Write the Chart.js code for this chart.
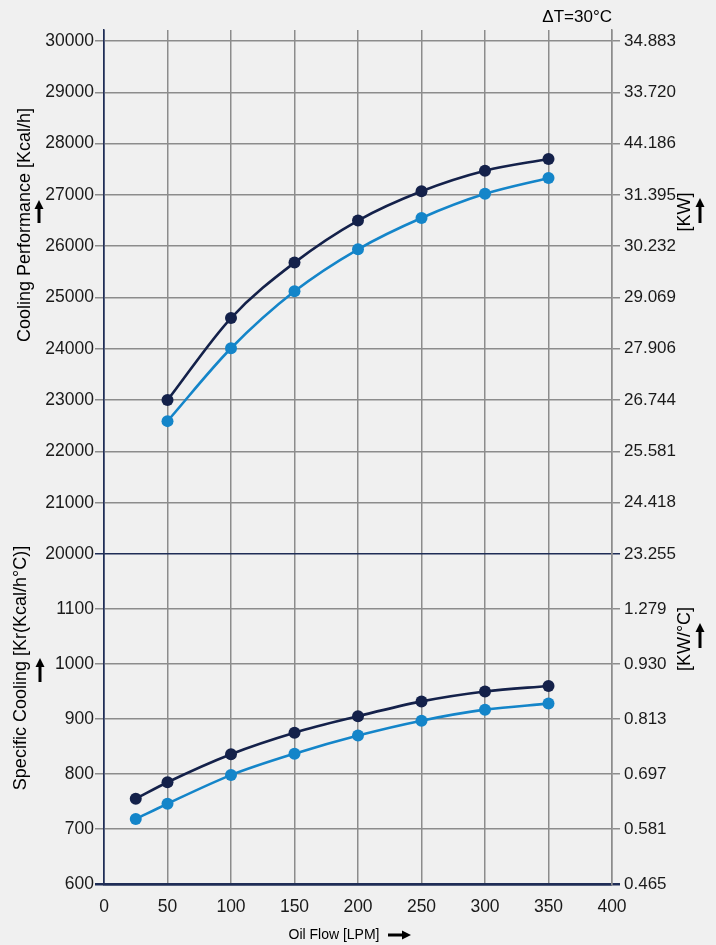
<!DOCTYPE html>
<html><head><meta charset="utf-8">
<script src="https://cdn.jsdelivr.net/npm/chart.js@4/dist/chart.umd.min.js"></script>
<style>html,body{margin:0;padding:0;background:#f0f0f0;}#wrap{position:relative;width:716px;height:945px;}</style>
</head><body><div id="wrap"><canvas id="c" width="716" height="945"></canvas></div>
<script>
// ---- data ----
const flowTop = [50, 100, 150, 200, 250, 300, 350];
const perfDark = [23000, 24600, 25680, 26500, 27070, 27470, 27700];
const perfLight = [22590, 24010, 25120, 25940, 26550, 27020, 27330];
const flowBot = [25, 50, 100, 150, 200, 250, 300, 350];
const specDark = [755, 785, 836, 875, 905, 932, 950, 960];
const specLight = [718, 746, 798, 837, 870, 897, 917, 928];
const xTicks = [0, 50, 100, 150, 200, 250, 300, 350, 400];
const perfTicks = [20000, 21000, 22000, 23000, 24000, 25000, 26000, 27000, 28000, 29000, 30000];
const kwTicks = ['23.255', '24.418', '25.581', '26.744', '27.906', '29.069', '30.232', '31.395', '44.186', '33.720', '34.883'];
const specTicks = [600, 700, 800, 900, 1000, 1100];
const kwcTicks = ['0.465', '0.581', '0.697', '0.813', '0.930', '1.279'];

const NAVY = '#14214a', BLUE = '#1485c9', GRID = '#8c8c8c', AXIS = '#1f2d56', TXT = '#1a1a1a';
const FONT = "'Liberation Sans', Arial, sans-serif";

function pts(xs, ys) { return xs.map((x, i) => ({ x: x, y: ys[i] })); }
function ds(data, color, axis) {
  return { data: data, yAxisID: axis, borderColor: color, backgroundColor: color,
    pointBackgroundColor: color, pointBorderWidth: 0, pointRadius: 6, borderWidth: 2.6,
    cubicInterpolationMode: 'monotone', clip: false };
}
const tickFont = { family: FONT, size: 17.5 };
const plain = v => String(v);

const bgPlugin = {
  id: 'bg',
  beforeDraw(chart) { const c = chart.ctx; c.save(); c.fillStyle = '#f0f0f0'; c.fillRect(0, 0, chart.width, chart.height); c.restore(); }
};
function arrowUp(c, x, yTop, yBot) {
  c.beginPath(); c.moveTo(x, yTop); c.lineTo(x + 4.5, yTop + 9); c.lineTo(x - 4.5, yTop + 9); c.closePath(); c.fill();
  c.fillRect(x - 1.5, yTop + 8, 3, yBot - yTop - 8);
}
function arrowRight(c, xL, xR, y) {
  c.beginPath(); c.moveTo(xR, y); c.lineTo(xR - 9, y - 4.5); c.lineTo(xR - 9, y + 4.5); c.closePath(); c.fill();
  c.fillRect(xL, y - 1.5, xR - xL - 8, 3);
}
function vText(c, txt, x, y) {
  c.save(); c.translate(x, y); c.rotate(-Math.PI / 2); c.textAlign = 'center'; c.textBaseline = 'middle'; c.fillText(txt, 0, 0); c.restore();
}
const titlePlugin = {
  id: 'titles',
  afterDraw(chart) {
    const c = chart.ctx; c.save(); c.fillStyle = '#000';
    c.font = '18px ' + FONT;
    vText(c, 'Cooling Performance [Kcal/h]', 25, 225);
    vText(c, 'Specific Cooling [Kr(Kcal/h°C)]', 21, 668);
    vText(c, '[KW]', 685, 212);
    vText(c, '[KW/°C]', 685, 639);
    arrowUp(c, 39, 200, 223);
    arrowUp(c, 40, 658, 682);
    arrowUp(c, 700, 198, 223);
    arrowUp(c, 700, 623, 648);
    c.font = '14px ' + FONT; c.textAlign = 'center'; c.textBaseline = 'middle';
    c.fillText('Oil Flow [LPM]', 334, 935);
    arrowRight(c, 388, 411, 935);
    c.font = '17px ' + FONT; c.textAlign = 'right';
    c.fillText('ΔT=30°C', 612, 17);
    c.restore();
  }
};

const fixW = w => s => { s.width = w; };

new Chart(document.getElementById('c'), {
  type: 'line',
  data: { datasets: [
    ds(pts(flowTop, perfDark), NAVY, 'yTop'),
    ds(pts(flowTop, perfLight), BLUE, 'yTop'),
    ds(pts(flowBot, specDark), NAVY, 'yBot'),
    ds(pts(flowBot, specLight), BLUE, 'yBot')
  ] },
  options: {
    responsive: false, animation: false, devicePixelRatio: 1,
    layout: { padding: { top: 30, left: 0, right: 0, bottom: 0 } },
    plugins: { legend: { display: false }, tooltip: { enabled: false } },
    scales: {
      x: {
        type: 'linear', min: 0, max: 400, position: 'bottom',
        afterBuildTicks: s => { s.ticks = xTicks.map(v => ({ value: v })); },
        afterFit: s => { s.height = 61; },
        grid: { color: c => (c.tick && c.tick.value === 0) ? AXIS : GRID, lineWidth: 1.5, drawTicks: false },
        border: { color: AXIS, width: 2.5 },
        ticks: { font: tickFont, color: TXT, padding: 13, autoSkip: false, maxRotation: 0, callback: plain }
      },
      yBot: {
        type: 'linear', position: 'left', stack: 'L', stackWeight: 330, min: 600, max: 1200,
        afterBuildTicks: s => { s.ticks = specTicks.map(v => ({ value: v })); },
        afterFit: fixW(104),
        grid: { color: c => (c.tick && c.tick.value === 600) ? AXIS : GRID, lineWidth: c => (c.tick && c.tick.value === 600) ? 2.5 : 1.5, tickLength: 9 },
        border: { color: AXIS, width: 1.5 },
        ticks: { font: tickFont, color: TXT, padding: 1, autoSkip: false, callback: plain }
      },
      yTop: {
        type: 'linear', position: 'left', stack: 'L', stackWeight: 524, min: 20000, max: 30214,
        afterBuildTicks: s => { s.ticks = perfTicks.map(v => ({ value: v })); },
        afterFit: fixW(104),
        grid: { color: c => (c.tick && c.tick.value === 20000) ? AXIS : GRID, lineWidth: 1.5, tickLength: 9 },
        border: { color: AXIS, width: 1.5 },
        ticks: { font: tickFont, color: TXT, padding: 1, autoSkip: false, callback: plain }
      },
      yTopR: {
        type: 'linear', position: 'right', stack: 'R', stackWeight: 524, min: 20000, max: 30214, display: true,
        afterBuildTicks: s => { s.ticks = perfTicks.map(v => ({ value: v })); },
        afterFit: fixW(104),
        grid: { drawOnChartArea: false, color: c => (c.tick && c.tick.value === 20000) ? AXIS : GRID, lineWidth: 1.5, tickLength: 8 },
        border: { color: GRID, width: 1.5 },
        ticks: { font: { family: FONT, size: 17 }, color: TXT, padding: 4, autoSkip: false,
          callback: v => kwTicks[perfTicks.indexOf(v)] }
      },
      yBotR: {
        type: 'linear', position: 'right', stack: 'R', stackWeight: 330, min: 600, max: 1200, display: true,
        afterBuildTicks: s => { s.ticks = specTicks.map(v => ({ value: v })); },
        afterFit: fixW(104),
        grid: { drawOnChartArea: false, color: c => (c.tick && c.tick.value === 600) ? AXIS : GRID, lineWidth: c => (c.tick && c.tick.value === 600) ? 2.5 : 1.5, tickLength: 8 },
        border: { color: GRID, width: 1.5 },
        ticks: { font: { family: FONT, size: 17 }, color: TXT, padding: 4, autoSkip: false,
          callback: v => kwcTicks[specTicks.indexOf(v)] }
      }
    }
  },
  plugins: [bgPlugin, titlePlugin]
});
</script></body></html>
